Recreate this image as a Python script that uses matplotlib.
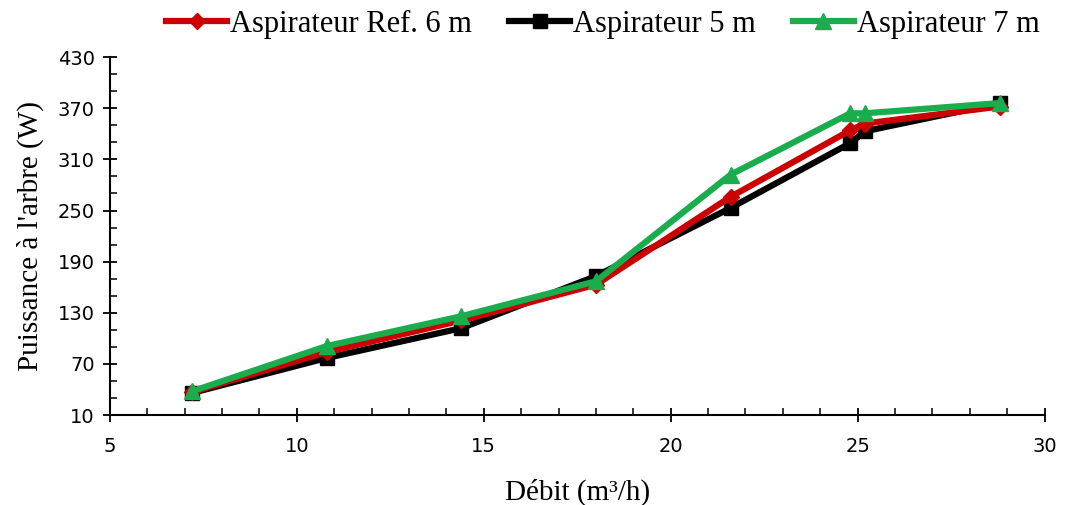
import numpy as np
import matplotlib
matplotlib.use("Agg")
import matplotlib.pyplot as plt
from matplotlib.ticker import MultipleLocator, FixedLocator

# debit (m3/h) et puissance a l'arbre (W)
debit = [7.2, 10.8, 14.4, 18.0, 21.6, 24.8, 25.2, 28.8]
p_ref6 = [37, 84, 121, 163, 266, 344, 352, 372]
p_5m = [36, 77, 112, 173, 253, 329, 343, 376]
p_7m = [38, 91, 126, 167, 292, 364, 364, 376]

labels = ['Aspirateur Ref. 6 m', 'Aspirateur 5 m', 'Aspirateur 7 m']
y_ticks = [10, 70, 130, 190, 250, 310, 370, 430]

serif = 'Liberation Serif'

fig = plt.figure(figsize=(10.67, 5.05), dpi=100)
ax = fig.add_axes([0.103, 0.178, 0.876, 0.709])

ax.plot(debit, p_ref6, color='#cc0000', lw=4.5, marker='D', ms=8, label=labels[0], zorder=3)
ax.plot(debit, p_5m, color='black', lw=4.5, marker='s', ms=10, label=labels[1], zorder=2)
ax.plot(debit, p_7m, color='#1aad4e', lw=4.5, marker='^', ms=11, label=labels[2], zorder=4)

ax.set_xlim(5, 30)
ax.set_ylim(10, 430)
ax.xaxis.set_major_locator(MultipleLocator(5))
ax.xaxis.set_minor_locator(MultipleLocator(1))
ax.yaxis.set_major_locator(FixedLocator(y_ticks))
ax.yaxis.set_minor_locator(FixedLocator(np.arange(10, 431, 20)))

for s in ['top', 'right']:
    ax.spines[s].set_visible(False)
for s in ['left', 'bottom']:
    ax.spines[s].set_linewidth(1.5)

ax.tick_params(which='major', direction='inout', length=10, width=1.3, labelsize=14, pad=6)
ax.tick_params(which='minor', direction='in', length=5, width=1.1)
ax.tick_params(axis='x', which='major', pad=11)

ax.set_xlabel('Débit (m³/h)', fontsize=21, family=serif, labelpad=16)
ax.set_ylabel("Puissance à l'arbre (W)", fontsize=21, family=serif, labelpad=10)

leg = fig.legend(loc='upper center', bbox_to_anchor=(0.565, 1.035), ncol=3, frameon=False,
                 prop={'family': serif, 'size': 22}, handlelength=2.0, handletextpad=0.1,
                 columnspacing=1.2, markerscale=1.0)

fig.savefig('out.png', dpi=100)
